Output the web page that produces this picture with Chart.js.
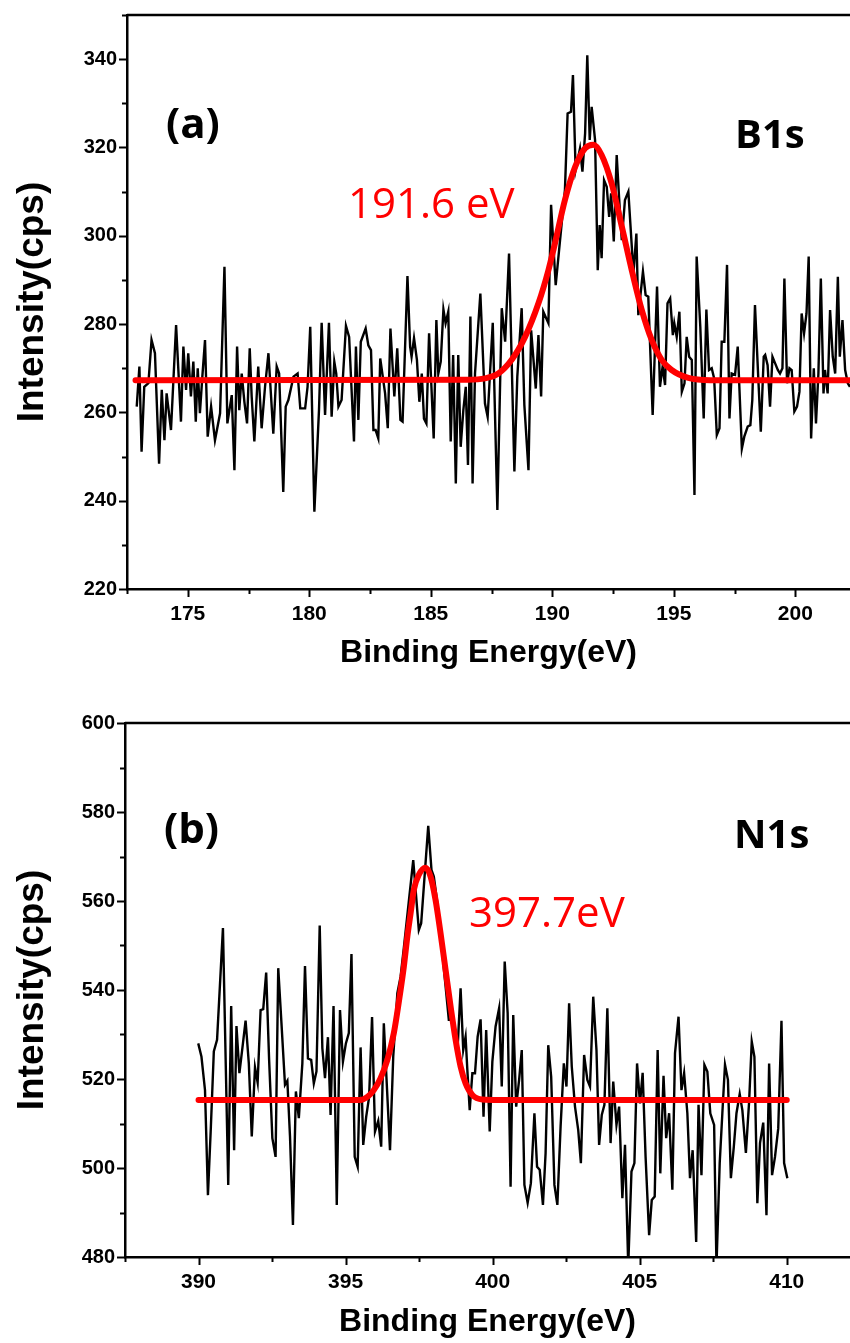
<!DOCTYPE html>
<html>
<head>
<meta charset="utf-8">
<script src="https://cdn.jsdelivr.net/npm/chart.js@4.4.1/dist/chart.umd.min.js"></script>
<style>
  html, body { margin: 0; padding: 0; background: #fff; }
  #wrap { position: relative; width: 850px; height: 1343px; }
  .panel { position: absolute; left: 0; width: 850px; }
  #boxA { top: 0; height: 690px; }
  #boxB { top: 690px; height: 653px; }
</style>
</head>
<body>
<div id="wrap">
  <div class="panel" id="boxA"><canvas id="chartA"></canvas></div>
  <div class="panel" id="boxB"><canvas id="chartB"></canvas></div>
</div>
<script>
// (a) B1s spectrum
const b1sEnergy = [
  172.90, 173.01, 173.10, 173.21, 173.38, 173.51, 173.65, 173.82, 173.93, 174.04,
  174.13, 174.31, 174.52, 174.72, 174.82, 174.93, 175.02, 175.13, 175.23, 175.33,
  175.41, 175.50, 175.60, 175.71, 175.82, 175.96, 176.12, 176.33, 176.51, 176.63,
  176.81, 176.92, 177.03, 177.12, 177.22, 177.33, 177.44, 177.55, 177.63, 177.74,
  177.90, 178.04, 178.18, 178.32, 178.52, 178.66, 178.76, 178.93, 179.03, 179.14,
  179.35, 179.52, 179.63, 179.83, 179.93, 180.04, 180.21, 180.40, 180.51, 180.65,
  180.81, 180.92, 181.03, 181.11, 181.20, 181.33, 181.51, 181.64, 181.84, 181.92,
  182.02, 182.12, 182.32, 182.43, 182.54, 182.64, 182.73, 182.84, 182.92, 183.12,
  183.23, 183.34, 183.50, 183.62, 183.75, 183.84, 184.04, 184.15, 184.21, 184.31,
  184.43, 184.53, 184.63, 184.72, 184.82, 184.93, 185.12, 185.23, 185.31, 185.41,
  185.52, 185.61, 185.72, 185.82, 185.92, 186.03, 186.13, 186.23, 186.34, 186.44,
  186.53, 186.63, 186.72, 186.82, 187.04, 187.23, 187.34, 187.55, 187.74, 187.92,
  188.06, 188.22, 188.44, 188.56, 188.74, 188.85, 189.02, 189.13, 189.32, 189.43,
  189.54, 189.63, 189.84, 189.95, 190.14, 190.52, 190.63, 190.77, 190.85, 190.96,
  191.14, 191.24, 191.35, 191.44, 191.54, 191.62, 191.76, 191.87, 191.95, 192.03,
  192.13, 192.24, 192.34, 192.42, 192.53, 192.65, 192.75, 192.86, 192.99, 193.13,
  193.34, 193.46, 193.54, 193.73, 193.84, 193.95, 194.13, 194.31, 194.43, 194.54,
  194.64, 194.74, 194.85, 194.96, 195.02, 195.12, 195.23, 195.33, 195.44, 195.53,
  195.63, 195.74, 195.85, 195.94, 196.09, 196.23, 196.34, 196.45, 196.56, 196.66,
  196.77, 196.88, 196.97, 197.08, 197.19, 197.29, 197.38, 197.52, 197.63, 197.80,
  197.90, 198.04, 198.15, 198.23, 198.34, 198.48, 198.58, 198.70, 198.76, 198.86,
  198.96, 199.06, 199.17, 199.28, 199.37, 199.47, 199.55, 199.66, 199.76, 199.85,
  199.96, 200.07, 200.17, 200.26, 200.36, 200.46, 200.55, 200.65, 200.76, 200.85,
  200.95, 201.05, 201.16, 201.22, 201.33, 201.43, 201.54, 201.64, 201.75, 201.83,
  201.94, 202.05, 202.16, 202.25
];
const b1sCounts = [
  261.3, 270.4, 251.1, 265.8, 266.6, 276.4, 273.4, 248.4, 265.1, 253.7,
  264.3, 256.0, 279.8, 257.9, 274.9, 265.1, 273.4, 263.6, 271.5, 257.9,
  270.0, 259.8, 268.1, 276.4, 254.5, 261.3, 253.7, 259.8, 293.0, 257.5,
  263.9, 246.9, 274.9, 260.5, 268.8, 262.4, 257.5, 274.5, 263.6, 253.4,
  270.4, 256.4, 265.8, 273.4, 255.2, 270.4, 268.8, 242.0, 261.3, 262.8,
  268.1, 268.8, 260.9, 260.9, 265.8, 279.4, 237.5, 260.5, 280.3, 259.4,
  280.3, 259.0, 271.5, 268.8, 261.3, 262.8, 279.6, 277.1, 253.4, 274.9,
  258.3, 276.0, 279.0, 275.2, 274.1, 256.0, 256.0, 254.1, 272.2, 264.3,
  256.4, 279.0, 263.6, 274.5, 258.3, 257.9, 290.9, 274.9, 272.6, 276.8,
  271.9, 262.4, 268.8, 258.6, 257.5, 277.9, 254.1, 280.9, 268.8, 271.5,
  283.3, 280.2, 282.8, 253.4, 273.0, 243.9, 273.0, 252.2, 260.5, 265.8,
  248.1, 281.7, 243.9, 268.8, 286.9, 262.0, 259.0, 280.3, 237.9, 283.6,
  276.0, 296.0, 246.6, 268.1, 283.6, 261.7, 246.9, 278.6, 265.4, 277.5,
  263.6, 282.8, 280.2, 307.0, 288.8, 310.4, 327.7, 328.1, 336.4, 314.9,
  319.8, 314.5, 323.2, 340.9, 321.7, 329.2, 321.7, 292.2, 302.4, 294.9,
  312.6, 311.1, 304.3, 309.6, 298.7, 318.3, 308.5, 299.0, 308.1, 310.0,
  291.5, 300.5, 282.0, 291.9, 286.6, 286.2, 259.4, 288.5, 265.8, 270.4,
  266.2, 284.7, 285.8, 277.5, 280.2, 277.1, 282.8, 264.7, 266.6, 277.1,
  272.6, 271.9, 241.3, 295.3, 279.4, 258.6, 283.3, 269.6, 270.0, 267.7,
  254.9, 256.4, 276.0, 276.0, 293.4, 258.6, 268.8, 268.5, 274.9, 251.8,
  254.5, 256.8, 257.1, 262.8, 284.3, 267.3, 255.6, 272.6, 273.0, 270.7,
  261.3, 272.6, 271.1, 269.6, 268.8, 270.0, 290.3, 266.6, 270.0, 269.6,
  260.2, 261.3, 264.7, 282.4, 277.9, 282.4, 295.3, 254.1, 270.0, 257.5,
  268.8, 290.3, 264.3, 269.6, 264.3, 283.2, 272.6, 268.8, 290.7, 272.6,
  280.9, 269.6, 266.6, 265.8
];
// (a) fitted peak
const b1sFitEnergy = [172.85, 186.5, 187.23, 187.78, 188.33, 188.88, 189.43, 189.84, 190.11, 190.52,
  190.94, 191.35, 191.69, 192.03, 192.44, 192.86, 193.27, 193.68, 194.09, 194.50, 194.91, 195.6, 196.5, 202.25];
const b1sFitCounts = [267.3, 267.4, 267.7, 268.8, 271.9, 277.1, 284.7, 292.2, 298.3, 308.1,
  315.6, 319.8, 320.6, 318.3, 311.9, 302.1, 292.2, 283.2, 276.4, 271.9, 269.6, 267.8, 267.3, 267.3];

// (b) N1s spectrum
const n1sEnergy = [
  389.99, 390.10, 390.22, 390.32, 390.42, 390.52, 390.63, 390.83, 391.01, 391.11,
  391.21, 391.29, 391.39, 391.51, 391.60, 391.71, 391.81, 391.92, 392.01, 392.11,
  392.20, 392.30, 392.40, 392.51, 392.62, 392.71, 392.82, 392.94, 393.02, 393.11,
  393.21, 393.31, 393.41, 393.53, 393.62, 393.72, 393.83, 393.92, 394.01, 394.12,
  394.21, 394.30, 394.40, 394.49, 394.59, 394.70, 394.81, 394.91, 395.01, 395.11,
  395.20, 395.31, 395.41, 395.51, 395.60, 395.70, 395.80, 395.90, 396.00, 396.11,
  396.21, 396.30, 396.51, 396.62, 396.76, 396.87, 396.98, 397.30, 397.49, 397.57,
  397.81, 397.92, 398.00, 398.12, 398.29, 398.40, 398.51, 398.61, 398.72, 398.82,
  398.91, 399.00, 399.08, 399.14, 399.22, 399.31, 399.40, 399.49, 399.59, 399.69,
  399.78, 399.90, 399.99, 400.10, 400.22, 400.31, 400.41, 400.51, 400.61, 400.70,
  400.80, 400.90, 400.99, 401.08, 401.19, 401.30, 401.42, 401.51, 401.60, 401.71,
  401.80, 401.89, 401.99, 402.10, 402.20, 402.31, 402.42, 402.51, 402.60, 402.69,
  402.80, 402.91, 403.00, 403.11, 403.22, 403.31, 403.42, 403.53, 403.62, 403.71,
  403.80, 403.90, 404.01, 404.10, 404.21, 404.30, 404.41, 404.50, 404.61, 404.72,
  404.82, 404.91, 405.01, 405.10, 405.20, 405.32, 405.41, 405.51, 405.61, 405.70,
  405.81, 405.90, 406.00, 406.11, 406.20, 406.32, 406.42, 406.51, 406.62, 406.71,
  406.80, 406.92, 407.00, 407.10, 407.20, 407.30, 407.40, 407.53, 407.61, 407.72,
  407.81, 407.90, 408.00, 408.10, 408.20, 408.29, 408.40, 408.49, 408.61, 408.72,
  408.81, 408.90, 409.00, 409.09, 409.20, 409.31, 409.40, 409.50, 409.60, 409.71,
  409.82, 409.91, 410.02
];
const n1sCounts = [
  528.0, 525.0, 517.5, 493.9, 509.3, 526.2, 528.8, 553.9, 496.2, 536.4,
  504.0, 531.9, 521.3, 528.0, 533.1, 523.5, 507.1, 522.6, 519.2, 535.5,
  535.7, 543.9, 524.3, 506.7, 502.5, 544.9, 532.5, 518.7, 519.6, 507.1,
  487.2, 517.2, 511.2, 523.5, 545.4, 524.6, 524.3, 519.0, 521.7, 554.5,
  526.9, 520.2, 529.4, 511.9, 536.4, 491.7, 535.5, 523.9, 528.0, 530.3,
  548.1, 502.5, 500.3, 527.1, 505.2, 511.5, 516.0, 533.9, 508.2, 510.6,
  504.8, 532.5, 504.0, 525.0, 539.3, 543.0, 549.4, 569.2, 553.5, 555.0,
  576.9, 567.0, 565.5, 559.5, 548.2, 540.8, 533.3, 533.3, 530.3, 528.4,
  540.4, 526.5, 529.5, 522.0, 513.0, 521.3, 521.3, 529.5, 533.4, 511.5,
  531.0, 508.2, 523.9, 531.8, 535.9, 518.3, 546.4, 534.8, 495.8, 534.4,
  513.8, 519.8, 526.5, 496.2, 492.2, 496.6, 512.3, 500.3, 499.6, 491.7,
  503.3, 527.6, 520.5, 496.2, 491.7, 509.3, 523.5, 518.3, 537.0, 522.8,
  513.8, 508.5, 501.1, 525.4, 519.8, 518.3, 538.5, 526.5, 505.2, 511.9,
  514.2, 535.9, 505.6, 519.4, 509.7, 513.8, 493.2, 505.2, 478.0, 499.2,
  501.1, 523.5, 514.5, 521.4, 502.5, 484.9, 492.8, 493.6, 526.5, 498.8,
  520.7, 506.7, 512.3, 495.1, 525.8, 534.0, 517.5, 521.3, 512.3, 497.7,
  504.0, 483.4, 514.2, 498.4, 523.2, 521.7, 512.3, 509.7, 478.0, 501.1,
  512.3, 523.2, 519.8, 497.7, 504.8, 512.3, 516.6, 513.0, 503.4, 514.9,
  528.4, 525.0, 492.1, 505.6, 510.2, 489.4, 523.5, 498.4, 502.5, 508.9,
  533.1, 501.1, 497.7
];
const n1sFitEnergy = [390.0, 395.5, 395.74, 395.96, 396.19, 396.42, 396.64, 396.87, 396.98, 397.10,
  397.21, 397.32, 397.49, 397.72, 397.89, 398.06, 398.23, 398.40, 398.57, 398.74,
  398.91, 399.08, 399.31, 399.65, 400.22, 410.0];
const n1sFitCounts = [515.3, 515.3, 516.0, 517.5, 520.2, 524.3, 530.3, 540.0, 545.2, 552.0,
  557.2, 562.5, 565.9, 567.5, 565.5, 560.2, 552.7, 544.5, 536.3, 528.8,
  522.8, 519.0, 516.4, 515.4, 515.3, 515.3];

const AXIS_FONT = "'Liberation Sans', Arial, sans-serif";
const NOTE_FONT = "'Open Sans', 'Noto Sans', sans-serif";

function xy(xs, ys) {
  return xs.map((x, i) => ({ x: x, y: ys[i] }));
}

// frame line on top, outward major/minor ticks, panel notes
function drawExtras(chart, p) {
  const ctx = chart.ctx;
  const area = chart.chartArea;
  ctx.save();
  ctx.strokeStyle = '#000';
  ctx.lineWidth = 2.5;
  ctx.beginPath();
  ctx.moveTo(area.left, area.top);
  ctx.lineTo(area.right, area.top);
  ctx.stroke();

  ctx.lineWidth = 2;
  const xs = chart.scales.x, ys = chart.scales.y;
  for (let v = p.xMinorFrom; v <= p.xMax + 1e-6; v += p.xMinor) {
    const major = Math.abs(v / p.xMajor - Math.round(v / p.xMajor)) < 1e-6;
    const px = Math.round(xs.getPixelForValue(v)) + 0.5;
    ctx.beginPath();
    ctx.moveTo(px, area.bottom);
    ctx.lineTo(px, area.bottom + (major ? 8 : 5));
    ctx.stroke();
  }
  for (let v = p.yMin; v <= p.yMax + 1e-6; v += p.yMinor) {
    const major = Math.abs(v / p.yMajor - Math.round(v / p.yMajor)) < 1e-6;
    const py = Math.round(ys.getPixelForValue(v)) + 0.5;
    ctx.beginPath();
    ctx.moveTo(area.left, py);
    ctx.lineTo(area.left - (major ? 8 : 5), py);
    ctx.stroke();
  }

  p.notes.forEach(n => {
    ctx.font = n.font;
    ctx.fillStyle = n.color;
    ctx.textAlign = 'left';
    ctx.textBaseline = 'alphabetic';
    ctx.fillText(n.text, n.x, n.y);
  });
  ctx.restore();
}

function makeChart(id, p) {
  return new Chart(document.getElementById(id), {
    type: 'line',
    data: {
      datasets: [
        {
          data: xy(p.fitX, p.fitY),
          borderColor: '#ff0000',
          borderWidth: 6,
          pointRadius: 0,
          cubicInterpolationMode: 'monotone',
          borderCapStyle: 'round',
          order: 0
        },
        {
          data: xy(p.dataX, p.dataY),
          borderColor: '#000000',
          borderWidth: 2.4,
          pointRadius: 0,
          tension: 0,
          order: 1
        }
      ]
    },
    options: {
      responsive: true,
      maintainAspectRatio: false,
      animation: false,
      devicePixelRatio: 1,
      layout: { padding: { top: p.padTop, right: 0, left: 0, bottom: 0 } },
      plugins: { legend: { display: false }, tooltip: { enabled: false } },
      scales: {
        x: {
          type: 'linear',
          min: p.xMin,
          max: p.xMax,
          afterFit: s => { s.height = p.xAxisH; },
          grid: { display: false, drawTicks: true, tickLength: 8 },
          border: { display: true, width: 2.5, color: '#000' },
          ticks: {
            stepSize: p.xMajor, includeBounds: false, maxRotation: 0, autoSkip: false,
            color: '#000', padding: 5,
            font: { family: AXIS_FONT, size: 21, weight: 'bold' }
          },
          title: {
            display: true, text: 'Binding Energy(eV)', color: '#000',
            font: { family: AXIS_FONT, size: 32, weight: 'bold' },
            padding: { top: 0, bottom: p.xTitlePad }
          }
        },
        y: {
          min: p.yMin,
          max: p.yMax,
          afterFit: s => { s.width = p.yAxisW; },
          grid: { display: false, drawTicks: true, tickLength: 8 },
          border: { display: true, width: 2.5, color: '#000' },
          ticks: {
            stepSize: p.yMajor, includeBounds: false, color: '#000', padding: 2,
            font: { family: AXIS_FONT, size: 20, weight: 'bold' }
          },
          title: {
            display: true, text: 'Intensity(cps)', color: '#000',
            font: { family: AXIS_FONT, size: 37, weight: 'bold' },
            padding: { top: 11, bottom: 0 }
          }
        }
      }
    },
    plugins: [{ id: 'extras', afterDraw: chart => drawExtras(chart, p) }]
  });
}

makeChart('chartA', {
  dataX: b1sEnergy, dataY: b1sCounts, fitX: b1sFitEnergy, fitY: b1sFitCounts,
  xMin: 172.5, xMax: 202.25, xMajor: 5, xMinor: 2.5, xMinorFrom: 172.5,
  yMin: 220, yMax: 350, yMajor: 20, yMinor: 10,
  padTop: 15, xAxisH: 101, yAxisW: 127, xTitlePad: 18,
  notes: [
    { text: '(a)', x: 166, y: 138, font: "bold 42px " + NOTE_FONT, color: '#000' },
    { text: 'B1s', x: 735, y: 148, font: "bold 40px " + NOTE_FONT, color: '#000' },
    { text: '191.6 eV', x: 348, y: 218, font: "42px " + NOTE_FONT, color: '#ff0000' }
  ]
});

makeChart('chartB', {
  dataX: n1sEnergy, dataY: n1sCounts, fitX: n1sFitEnergy, fitY: n1sFitCounts,
  xMin: 387.5, xMax: 412.15, xMajor: 5, xMinor: 2.5, xMinorFrom: 387.5,
  yMin: 480, yMax: 600, yMajor: 20, yMinor: 10,
  padTop: 33, xAxisH: 86, yAxisW: 125, xTitlePad: 2,
  notes: [
    { text: '(b)', x: 164, y: 153, font: "bold 42px " + NOTE_FONT, color: '#000' },
    { text: 'N1s', x: 734, y: 158, font: "bold 40px " + NOTE_FONT, color: '#000' },
    { text: '397.7eV', x: 469, y: 237, font: "42px " + NOTE_FONT, color: '#ff0000' }
  ]
});
</script>
</body>
</html>
